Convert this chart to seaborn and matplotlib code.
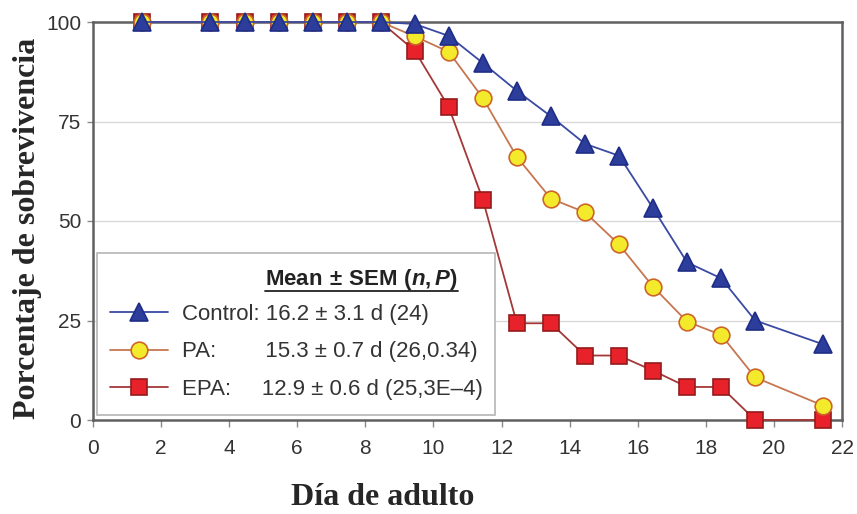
import matplotlib
matplotlib.use("Agg")
import matplotlib.pyplot as plt
import seaborn as sns
from matplotlib.patches import Rectangle
from matplotlib.lines import Line2D

# survival curves (x = day of adulthood, y = % surviving)
days = [1.45, 3.45, 4.45, 5.45, 6.45, 7.45, 8.45, 9.45, 10.45, 11.45,
        12.45, 13.45, 14.45, 15.45, 16.45, 17.45, 18.45, 19.45, 21.45]
control = [100, 100, 100, 100, 100, 100, 100, 99.5, 96.5, 89.7,
           82.7, 76.3, 69.4, 66.4, 53.2, 39.6, 35.6, 25.0, 19.0]
pa = [100, 100, 100, 100, 100, 100, 100, 96.4, 92.5, 80.9,
      66.1, 55.6, 52.2, 44.1, 33.5, 24.7, 21.4, 10.7, 3.6]
epa = [100, 100, 100, 100, 100, 100, 100, 92.8, 78.6, 55.4,
       24.3, 24.3, 16.2, 16.2, 12.4, 8.3, 8.3, 0, 0]

names = ["Control:", "PA:", "EPA:"]
stats = ["16.2 ± 3.1 d (24)", "15.3 ± 0.7 d (26,0.34)", "12.9 ± 0.6 d (25,3E\u20134)"]
pads = [" ", " " * 8, " " * 5]
xticks = list(range(0, 23, 2))
yticks = [0, 25, 50, 75, 100]

sns.set_theme(style="ticks")
plt.rcParams["font.family"] = ["Liberation Sans", "DejaVu Sans"]
plt.rcParams["mathtext.fontset"] = "custom"
plt.rcParams["mathtext.rm"] = "Liberation Sans"
plt.rcParams["mathtext.bf"] = "Liberation Sans:bold"
plt.rcParams["mathtext.bfit"] = "Liberation Sans:italic:bold"

W, H = 857, 514
fig = plt.figure(figsize=(W / 100, H / 100), dpi=100)
ax = fig.add_axes([93 / W, 1 - 420 / H, (842 - 93) / W, (420 - 22) / H])

styles = {
    "Control:": dict(color="#3a4aa3", marker="^", markersize=12.5,
                     markerfacecolor="#2c3d9b", markeredgecolor="#1f2d86"),
    "PA:": dict(color="#c67650", marker="o", markersize=12,
                markerfacecolor="#f3ea2c", markeredgecolor="#cc6628"),
    "EPA:": dict(color="#a43838", marker="s", markersize=12,
                 markerfacecolor="#e8222a", markeredgecolor="#951b1b"),
}
values = {"Control:": control, "PA:": pa, "EPA:": epa}

# draw EPA first so the triangles sit on top, as in the original
for name in ["EPA:", "PA:", "Control:"]:
    sns.lineplot(x=days, y=values[name], ax=ax, linewidth=1.3,
                 markeredgewidth=1.2, clip_on=False, zorder=3,
                 label=name, **styles[name])

ax.set_xlim(0, 22)
ax.set_ylim(0, 100)
ax.set_xticks(xticks)
ax.set_yticks(yticks)
ax.set_xlabel("")
ax.set_ylabel("")
ax.yaxis.grid(True, color="#d6d6d6", lw=0.9)
ax.set_axisbelow(True)
for s in ax.spines.values():
    s.set_visible(True)
    s.set_color("#606060")
    s.set_linewidth(1.8)
ax.tick_params(axis="x", length=5, width=1, color="#8a8a8a", pad=9,
               labelsize=15, labelcolor="#333333")
ax.tick_params(axis="y", length=4, width=1, color="#8a8a8a", pad=4.5,
               labelsize=15, labelcolor="#333333")

# legend box
ax.add_patch(Rectangle(((97 - 93) / 749, (420 - 415) / 398), (495 - 97) / 749,
                       (415 - 253) / 398, transform=ax.transAxes,
                       facecolor="white", edgecolor="#b5b5b5", lw=1.2, zorder=4))
handles, labels = ax.get_legend_handles_labels()
lookup = dict(zip(labels, handles))
leg = ax.legend([lookup[n] for n in names],
                [n + p + s for n, p, s in zip(names, pads, stats)],
                loc="upper left", bbox_to_anchor=((110 - 93) / 749, (420 - 304) / 398),
                frameon=False, borderpad=0, borderaxespad=0, fontsize=16,
                handlelength=2.6, handletextpad=0.63, labelspacing=0.74,
                labelcolor="#333333")
leg.set_zorder(5)

title = ax.text((265 - 93) / 749, (420 - 285) / 398,
                r"$\mathbf{Mean\ {\pm}\ SEM\ (}\mathbfit{n}\mathbf{,}\,\mathbfit{P}\mathbf{)}$",
                transform=ax.transAxes, ha="left", va="baseline",
                fontsize=16, color="#222222", zorder=6)

fig.text(383 / W, 1 - 505 / H, "Día de adulto", ha="center", va="baseline",
         fontsize=23, fontweight="bold", family="Liberation Serif")
fig.text(27.5 / W, 1 - 228 / H, "Porcentaje de sobrevivencia", rotation=90,
         ha="center", va="center", fontsize=23, fontweight="bold",
         family="Liberation Serif")

# underline the legend heading
fig.canvas.draw()
bb = title.get_window_extent().transformed(fig.transFigure.inverted())
fig.add_artist(Line2D([bb.x0, bb.x1], [bb.y0 + 0.002, bb.y0 + 0.002],
                      transform=fig.transFigure, color="#222222", lw=1.3, zorder=7))

fig.savefig("out.png", dpi=100)
